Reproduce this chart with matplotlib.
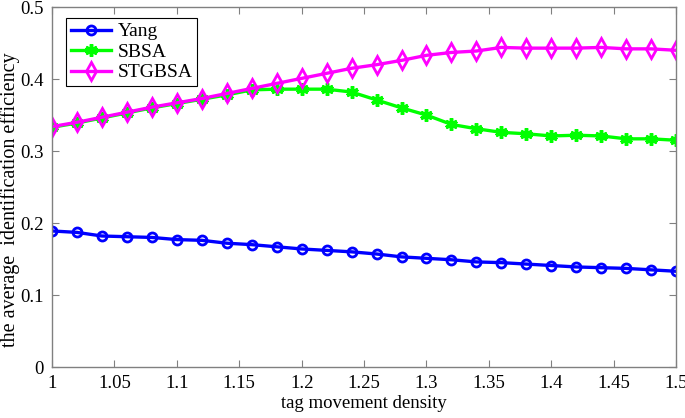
import matplotlib
matplotlib.use("Agg")
import matplotlib.pyplot as plt
import numpy as np

x = [1.00, 1.02, 1.04, 1.06, 1.08, 1.10, 1.12, 1.14, 1.16, 1.18, 1.20, 1.22, 1.24,
     1.26, 1.28, 1.30, 1.32, 1.34, 1.36, 1.38, 1.40, 1.42, 1.44, 1.46, 1.48, 1.50]
yang = [0.189, 0.187, 0.182, 0.181, 0.180, 0.177, 0.176, 0.172, 0.170, 0.167, 0.164, 0.162, 0.160,
        0.157, 0.153, 0.151, 0.149, 0.146, 0.145, 0.143, 0.141, 0.139, 0.138, 0.137, 0.135, 0.133]
sbsa = [0.333, 0.339, 0.346, 0.353, 0.360, 0.366, 0.372, 0.378, 0.385, 0.386, 0.386, 0.386, 0.382,
        0.371, 0.360, 0.350, 0.337, 0.331, 0.326, 0.324, 0.321, 0.322, 0.321, 0.317, 0.317, 0.315]
stgbsa = [0.334, 0.340, 0.347, 0.354, 0.361, 0.367, 0.373, 0.380, 0.387, 0.394, 0.401, 0.408, 0.415,
          0.420, 0.426, 0.433, 0.437, 0.439, 0.444, 0.443, 0.443, 0.443, 0.444, 0.442, 0.442, 0.440]

xticks = [1, 1.05, 1.1, 1.15, 1.2, 1.25, 1.3, 1.35, 1.4, 1.45, 1.5]
xticklabels = ["1", "1.05", "1.1", "1.15", "1.2", "1.25", "1.3", "1.35", "1.4", "1.45", "1.5"]
yticks = [0, 0.1, 0.2, 0.3, 0.4, 0.5]
yticklabels = ["0", "0.1", "0.2", "0.3", "0.4", "0.5"]

plt.rcParams['font.family'] = ['Liberation Serif', 'DejaVu Serif']

fig = plt.figure(figsize=(6.85, 4.18), dpi=100)
ax = fig.add_axes([0.076, 0.122, 0.911, 0.861])

lw = 2.4
ax.plot(x, yang, color='#0000ff', lw=lw, marker='o', ms=6.5, mfc='none', mec='#0000ff', mew=2, label='Yang')
ax.plot(x, sbsa, color='#00ff00', lw=lw, marker=(6, 2, 0), ms=9, mec='#00ff00', mew=2.5, label='SBSA')
ax.plot(x, stgbsa, color='#ff00ff', lw=lw, marker='d', ms=9, mfc='none', mec='#ff00ff', mew=2, label='STGBSA')

ax.set_xlim(1, 1.5)
ax.set_ylim(0, 0.5)
ax.set_xticks(xticks)
ax.set_xticklabels(xticklabels)
ax.set_yticks(yticks)
ax.set_yticklabels(yticklabels)
ax.tick_params(direction='in', top=True, right=True, length=5, color='#808080', labelsize=13.5, pad=6)
for s in ax.spines.values():
    s.set_color('#808080')
    s.set_linewidth(1)

ax.set_xlabel('tag movement density', fontsize=13.5, labelpad=2)
ax.set_ylabel('the average  identification efficiency', fontsize=14.5)
ax.yaxis.set_label_coords(-0.051, 0.464)

leg = ax.legend(loc='upper left', fontsize=14, fancybox=False, edgecolor='black', framealpha=1,
                handlelength=2.1, handletextpad=0.3, borderpad=0.25, labelspacing=0.15,
                borderaxespad=0, bbox_to_anchor=(0.022, 0.97))
leg.get_frame().set_linewidth(0.8)

fig.savefig('out.png', dpi=100)
